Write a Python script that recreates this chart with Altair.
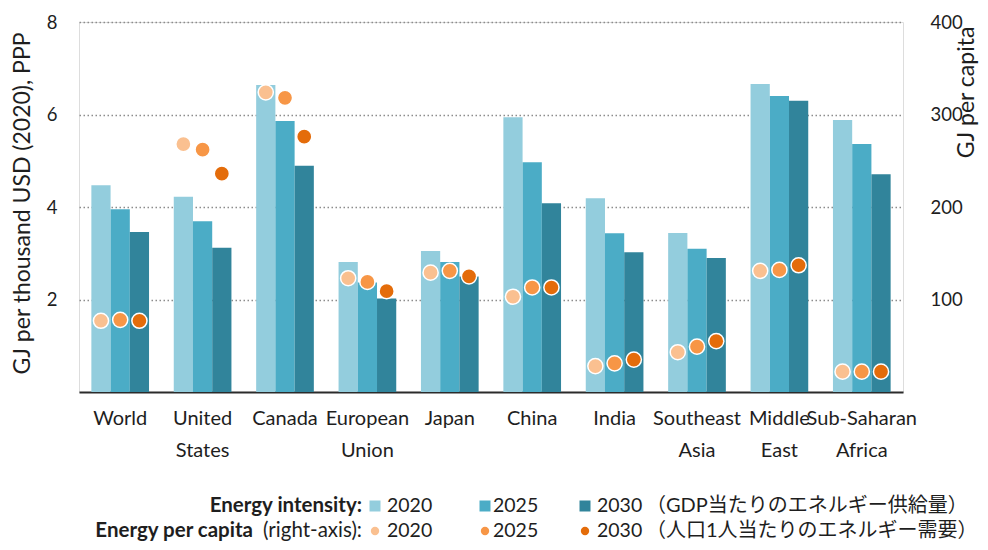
import altair as alt
import pandas as pd

regions = ["World", "United States", "Canada", "European Union", "Japan",
           "China", "India", "Southeast Asia", "Middle East", "Sub-Saharan Africa"]
years = ["2020", "2025", "2030"]

intensity_2020 = [4.47, 4.22, 6.64, 2.81, 3.05, 5.94, 4.19, 3.44, 6.66, 5.88]
intensity_2025 = [3.95, 3.69, 5.86, 2.37, 2.81, 4.97, 3.43, 3.10, 6.40, 5.36]
intensity_2030 = [3.46, 3.12, 4.89, 2.02, 2.50, 4.08, 3.02, 2.90, 6.30, 4.71]

per_capita_2020 = [77, 268, 324, 123, 129, 103, 28, 43, 131, 22]
per_capita_2025 = [78, 262, 318, 119, 131, 113, 31, 49, 132, 22]
per_capita_2030 = [77, 236, 276, 109, 125, 113, 35, 55, 137, 22]

left_ticks = [2, 4, 6, 8]
right_ticks = [100, 200, 300, 400]

left_title = "GJ per thousand USD (2020), PPP"
right_title = "GJ per capita"
legend_row1_label = "Energy intensity:"
legend_row2_bold = "Energy per capita"
legend_row2_normal = "(right-axis):"
legend_row1_note = "（GDP当たりのエネルギー供給量）"
legend_row2_note = "（人口1人当たりのエネルギー需要）"

bar_colors = ["#93CDDD", "#4BACC6", "#31849B"]
dot_colors = ["#FAC090", "#F79646", "#E46C0A"]

FONT = "Lato, Noto Sans CJK JP, sans-serif"
TXT = "#1e1e1e"

rows_i, rows_p = [], []
for yr, ser in zip(years, [intensity_2020, intensity_2025, intensity_2030]):
    for r, v in zip(regions, ser):
        rows_i.append({"region": r, "year": yr, "value": v})
for yr, ser in zip(years, [per_capita_2020, per_capita_2025, per_capita_2030]):
    for r, v in zip(regions, ser):
        rows_p.append({"region": r, "year": yr, "value": v})
df_i = pd.DataFrame(rows_i)
df_p = pd.DataFrame(rows_p)

x_enc = alt.X(
    "region:N", sort=regions,
    scale=alt.Scale(paddingInner=0.3, paddingOuter=0.15),
    axis=alt.Axis(title=None, labelAngle=0, ticks=False, domain=True,
                  domainColor="#2b2b2b", domainWidth=2,
                  labelExpr="split(datum.label, ' ')",
                  labelFontSize=20, labelLineHeight=32, labelPadding=16,
                  labelColor=TXT, labelFont=FONT, labelBaseline="top"),
)
xoff = alt.XOffset("year:N", sort=years, scale=alt.Scale(paddingInner=0, paddingOuter=0))

bars = alt.Chart(df_i).mark_bar().encode(
    x=x_enc,
    xOffset=xoff,
    y=alt.Y("value:Q", scale=alt.Scale(domain=[0, 8], nice=False),
            axis=alt.Axis(orient="left", values=left_ticks, title=left_title,
                          grid=True, gridDash=[1.5, 2.5], gridColor="#8c8c8c",
                          gridWidth=1.5, domain=False, ticks=False,
                          labelFontSize=18.5, labelPadding=22, labelColor=TXT,
                          labelFont=FONT, titleFont=FONT, titleFontSize=23,
                          titleFontWeight="normal", titleColor=TXT,
                          titleAngle=270, titleX=-57, titleY=181,
                          titleAlign="center", titleBaseline="middle")),
    color=alt.Color("year:N", scale=alt.Scale(domain=years, range=bar_colors), legend=None),
)

points = alt.Chart(df_p).mark_circle(size=230, stroke="white", strokeWidth=1.5, opacity=1).encode(
    x=x_enc,
    xOffset=xoff,
    y=alt.Y("value:Q", scale=alt.Scale(domain=[0, 400], nice=False),
            axis=alt.Axis(orient="right", values=right_ticks, title=right_title,
                          grid=False, domain=False, ticks=False,
                          labelFontSize=18.5, labelPadding=27, labelColor=TXT,
                          labelFont=FONT, titleFont=FONT, titleFontSize=23,
                          titleFontWeight="normal", titleColor=TXT,
                          titleAngle=270, titleX=63, titleY=70,
                          titleAlign="center", titleBaseline="middle")),
    color=alt.Color("year:N", scale=alt.Scale(domain=years, range=dot_colors), legend=None),
)

one = pd.DataFrame({"k": [0]})


def text_item(txt, x, y, bold=False, align="left", size=18):
    return alt.Chart(pd.DataFrame({"t": [txt]})).mark_text(
        align=align, baseline="middle", font=FONT, fontSize=size,
        fontWeight="bold" if bold else "normal", color=TXT,
    ).encode(text="t:N", x=alt.value(x), y=alt.value(y))


def square_item(c, x, y):
    return alt.Chart(one).mark_square(size=121, color=c, opacity=1).encode(
        x=alt.value(x), y=alt.value(y))


def dot_item(c, x, y):
    return alt.Chart(one).mark_circle(size=70, color=c, opacity=1).encode(
        x=alt.value(x), y=alt.value(y))


R1, R2 = 484, 509
legend_layers = [
    text_item(legend_row1_label, 283, R1, bold=True, align="right", size=20.5),
    text_item(legend_row2_normal, 283, R2, align="right", size=20.5),
    text_item(legend_row2_bold, 174, R2, bold=True, align="right", size=20.5),
    text_item(legend_row1_note, 567, R1, size=20),
    text_item(legend_row2_note, 567, R2, size=20),
]
for c_bar, c_dot, yr, xs, xt in zip(bar_colors, dot_colors, years, [296, 406, 506], [308, 414, 518]):
    legend_layers.append(square_item(c_bar, xs, R1))
    legend_layers.append(dot_item(c_dot, xs, R2))
    legend_layers.append(text_item(yr, xt, R1, size=19.5))
    legend_layers.append(text_item(yr, xt, R2, size=19.5))

chart = alt.layer(bars, points, *legend_layers).resolve_scale(
    y="independent", color="independent"
).properties(
    width=824, height=370,
    autosize=alt.AutoSizeParams(type="none"),
    padding={"left": 71, "top": 14, "right": 77, "bottom": 150},
).configure_view(stroke=None).configure(background="white")

chart.save("out.html", embed_options={"renderer": "svg", "actions": False})
